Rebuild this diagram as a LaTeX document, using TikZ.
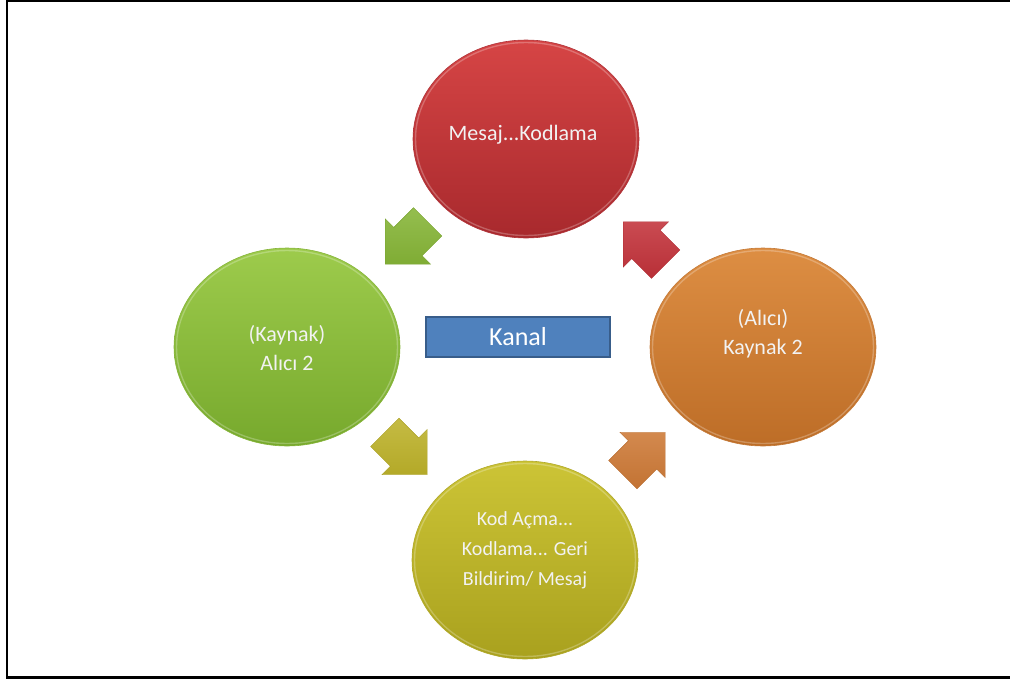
\documentclass[tikz,border=0pt]{standalone}
\usepackage{fontspec}
\setmainfont{Carlito}
\usetikzlibrary{shapes.geometric,calc}
\definecolor{redT}{HTML}{D64545}
\definecolor{redB}{HTML}{A8292D}
\definecolor{redE}{HTML}{B0343A}
\definecolor{grnT}{HTML}{9DCB4C}
\definecolor{grnB}{HTML}{77A92D}
\definecolor{grnE}{HTML}{86B43A}
\definecolor{orgT}{HTML}{DD8E43}
\definecolor{orgB}{HTML}{BD6D27}
\definecolor{orgE}{HTML}{C47A38}
\definecolor{yelT}{HTML}{CCC436}
\definecolor{yelB}{HTML}{A9A11E}
\definecolor{yelE}{HTML}{B0A82A}
\definecolor{arrgrn}{HTML}{86B537}
\definecolor{arrred}{HTML}{C2323A}
\definecolor{arryel}{HTML}{BDB22A}
\definecolor{arrorg}{HTML}{CD7936}
\definecolor{kanalF}{HTML}{4F81BD}
\definecolor{kanalE}{HTML}{385D8A}
\definecolor{txtcol}{HTML}{F2F2F2}
\tikzset{
  disc/.style={ellipse, minimum width=226pt, minimum height=198pt, inner sep=0pt, draw=#1, line width=0.6pt},
  rim/.style={draw=white, opacity=0.25, line width=1.4pt},
  disctext/.style={text=txtcol, align=center, font=\fontsize{22}{29}\selectfont},
  blockarr/.pic={\shade[top color=#1!88!white, bottom color=#1!95!black, draw=#1!90!black, line width=0.4pt]
    (30,0) -- (-2,32) -- (-2,20) -- (-30,20) -- (-30,-20) -- (-2,-20) -- (-2,-32) -- cycle;}
}
\begin{document}
\begin{tikzpicture}[x=1pt,y=-1pt]
\useasboundingbox (0,0) rectangle (1010,681);
\clip (0,0) rectangle (1010,681);
\draw[line width=2.5pt] (7,1.2) rectangle (1016,677.6);

\node[disc=redE, top color=redT, bottom color=redB] (red) at (526,139) {};
\node[disc=grnE, top color=grnT, bottom color=grnB] (green) at (287,347) {};
\node[disc=orgE, top color=orgT, bottom color=orgB] (orange) at (763,347) {};
\node[disc=yelE, top color=yelT, bottom color=yelB] (yellow) at (525,560) {};
\foreach \n in {red,green,orange,yellow}
  \draw[rim] (\n.center) ellipse [x radius=110.5, y radius=96.5];

\node[fill=kanalF, draw=kanalE, line width=1.2pt, minimum width=184pt, minimum height=40pt,
      text=white, font=\fontsize{26}{30}\selectfont] (kanal) at (518,337) {Kanal};

\pic[rotate=225] (arrG) at ($(red)!0.5!(green)$) {blockarr=arrgrn};
\pic[rotate=-45] (arrY) at ($(green)!0.5!(yellow)$) {blockarr=arryel};
\pic[rotate=45] (arrO) at ($(yellow)!0.5!(orange)$) {blockarr=arrorg};
\pic[rotate=135] (arrR) at ($(orange)!0.5!(red)$) {blockarr=arrred};

\node[disctext] (redtxt) at (523,135) {Mesaj...Kodlama};
\node[disctext] (grntxt) at (287,348) {(Kaynak)\\Alıcı 2};
\node[disctext] (orgtxt) at (763,334) {(Alıcı)\\Kaynak 2};
\node[disctext, font=\fontsize{20}{30}\selectfont] (yeltxt) at (525,550) {Kod Açma...\\Kodlama... Geri\\Bildirim/ Mesaj};
\end{tikzpicture}
\end{document}
